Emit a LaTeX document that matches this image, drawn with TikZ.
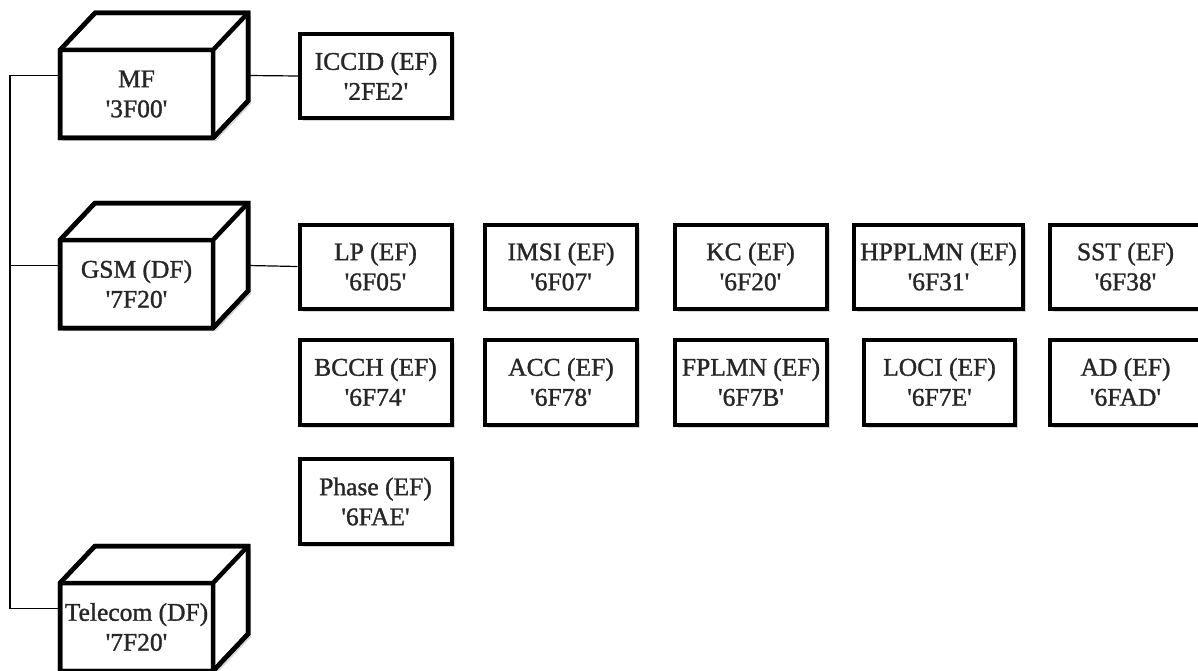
\documentclass[tikz,border=0pt]{standalone}
\usepackage{fontspec}
\setmainfont{Liberation Serif}[BoldFont=Liberation Serif,BoldFeatures={FakeBold=1.2}]
\usetikzlibrary{shadows}
\newcommand{\effont}{\fontsize{25.5}{30}\selectfont\bfseries}
\newcommand{\q}{\textquotesingle}
\newcommand{\dfcube}[3]{%
  \node[cubebb] (#1) at (154,{#2+62.5}) {};
  \path[cubeline,fill=white,softshadow] (60,{#2+37}) -- (95,#2) -- (248,#2) -- (248,{#2+88}) -- (213,{#2+125}) -- (60,{#2+125}) -- cycle;
  \draw[cubeline] (60,{#2+37}) -- (213,{#2+37}) -- (248,#2) (213,{#2+37}) -- (213,{#2+125});
  \draw[cubeline] (60,{#2+37}) -- (95,#2) -- (248,#2) -- (248,{#2+88}) -- (213,{#2+125}) -- (60,{#2+125}) -- cycle;
  \node[cubetext] (#1-t) at (136.5,{#2+81}) {#3};
}
\begin{document}
\begin{tikzpicture}[x=1pt,y=-1pt,
  softshadow/.style={drop shadow={shadow xshift=3pt,shadow yshift=-3pt,opacity=0.35,fill=black!45}},
  efbox/.style={draw=black,line width=4pt,fill=white,minimum width=152pt,minimum height=84pt,
    inner sep=0pt,align=center,font=\effont,text=black!85,softshadow},
  cubebb/.style={rectangle,minimum width=188pt,minimum height=125pt,inner sep=0pt,outer sep=0pt},
  cubeline/.style={draw=black,line width=4.5pt,line join=miter},
  cubetext/.style={align=center,font=\effont,text=black!85,inner sep=0pt},
  conn/.style={draw=black,line width=1.2pt}]
\useasboundingbox (0,0) rectangle (1198,671);
\fill[white] (0,0) rectangle (1198,671);

\dfcube{mf}{13}{MF\\\q3F00\q}
\dfcube{gsm}{203}{GSM (DF)\\\q7F20\q}
\dfcube{tel}{546}{Telecom (DF)\\\q7F20\q}

\node[efbox] (iccid) at (376,76) {ICCID (EF)\\\q2FE2\q};

\node[efbox] (lp) at (375.5,266.5) {LP (EF)\\\q6F05\q};
\node[efbox] (imsi) at (561,266.5) {IMSI (EF)\\\q6F07\q};
\node[efbox] (kc) at (750.5,266.5) {KC (EF)\\\q6F20\q};
\node[efbox,minimum width=169pt] (hpplmn) at (938.5,266.5) {HPPLMN (EF)\\\q6F31\q};
\node[efbox] (sst) at (1125.5,266.5) {SST (EF)\\\q6F38\q};

\node[efbox,minimum height=85pt] (bcch) at (375.5,382) {BCCH (EF)\\\q6F74\q};
\node[efbox,minimum height=85pt] (acc) at (561,382) {ACC (EF)\\\q6F78\q};
\node[efbox,minimum height=85pt] (fplmn) at (751,382) {FPLMN (EF)\\\q6F7B\q};
\node[efbox,minimum height=85pt,minimum width=151pt] (loci) at (939.5,382) {LOCI (EF)\\\q6F7E\q};
\node[efbox,minimum height=85pt] (ad) at (1125.5,382) {AD (EF)\\\q6FAD\q};

\node[efbox,minimum height=85pt] (phase) at (375.5,501.5) {Phase (EF)\\\q6FAE\q};

\coordinate (trunk) at (10,0);
\draw[conn] (mf.west) -- (mf.west -| trunk) |- (tel.west);
\draw[conn] (gsm.west) -- (gsm.west -| trunk);
\draw[conn] (mf.east) -- (iccid.west);
\draw[conn] (gsm.east) -- (lp.west);
\end{tikzpicture}
\end{document}
